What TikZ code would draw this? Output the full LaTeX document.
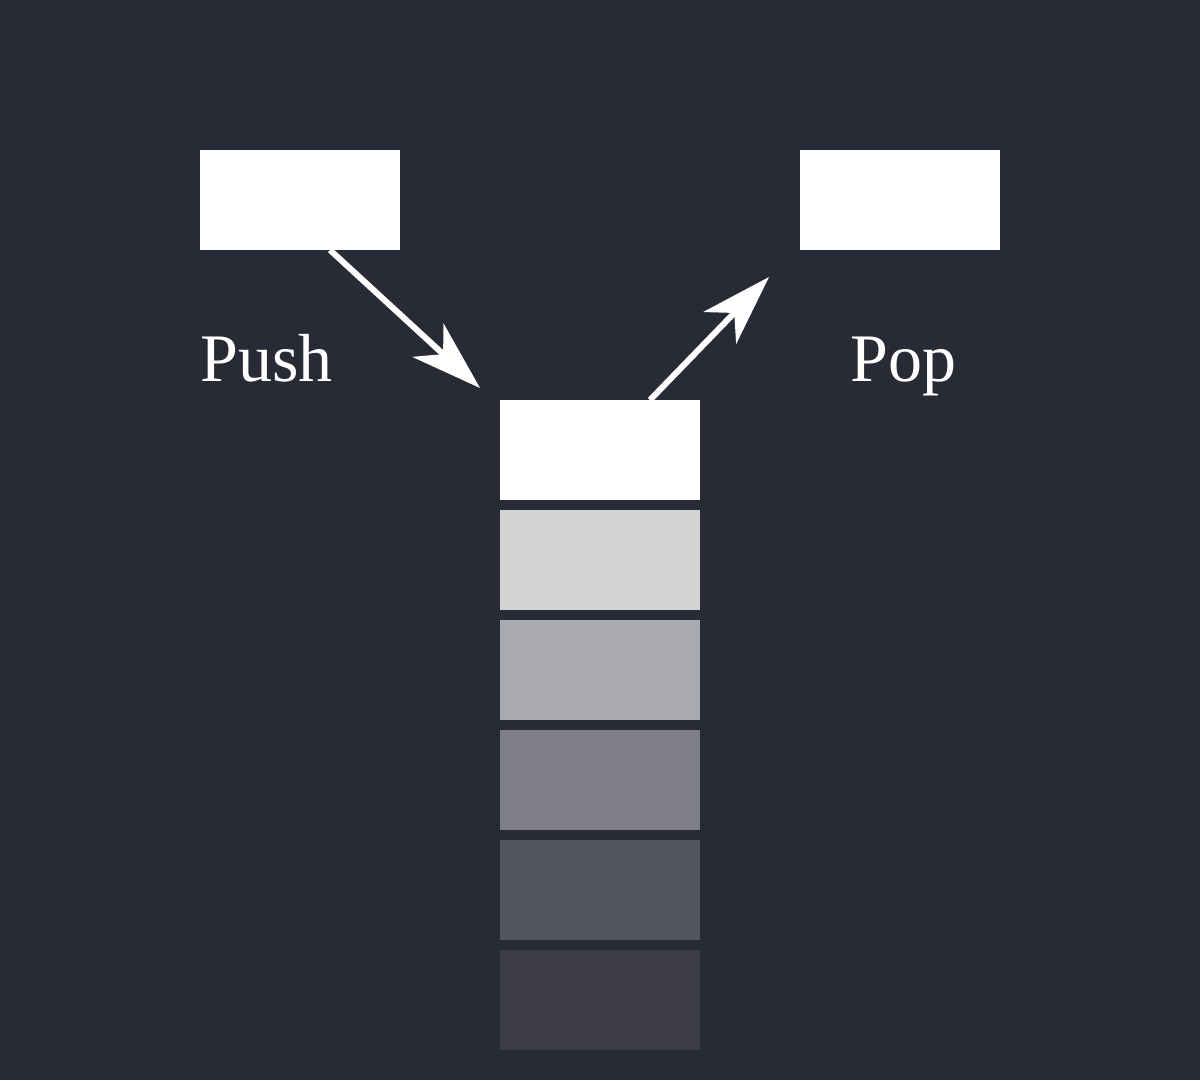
\documentclass[tikz,border=0pt]{standalone}
\usepackage{xcolor}
\usepackage{fontspec}
\setmainfont{Liberation Serif}
\usepackage{tikz}
\usetikzlibrary{arrows.meta}
\definecolor{bg}{HTML}{282A36}
\definecolor{text}{HTML}{FFFFFF}
\definecolor{lvla}{HTML}{D3D3D6}
\definecolor{lvlb}{HTML}{A9AAAF}
\definecolor{lvlc}{HTML}{7E7E88}
\definecolor{lvld}{HTML}{52555F}
\definecolor{lvle}{HTML}{3D3D4A}
\tikzset{
  cell/.style={anchor=north west, minimum width=200pt, minimum height=100pt, inner sep=0pt, outer sep=0pt},
  move/.style={draw=text, line width=6pt, -{Stealth[length=71pt,width=46pt,inset=21pt,line width=0pt]}},
  lab/.style={text=text, font=\fontsize{68}{80}\selectfont, anchor=base west, inner sep=0pt},
}

\begin{document}
\begin{tikzpicture}[x=1pt,y=-1pt]
  \fill[bg] (0,0) rectangle (1200,1080);
  \useasboundingbox (0,0) rectangle (1200,1080);

  \node[cell,fill=text] (item) at (200,150) {};
  \node[cell,fill=text] (out) at (800,150) {};

  % stack, top to bottom
  \node[cell,fill=text] (top) at (500,400) {};
  \node[cell,fill=lvla] (s2) at (500,510) {};
  \node[cell,fill=lvlb] (s3) at (500,620) {};
  \node[cell,fill=lvlc] (s4) at (500,730) {};
  \node[cell,fill=lvld] (s5) at (500,840) {};
  \node[cell,fill=lvle] (s6) at (500,950) {};

  \coordinate (pushend) at (480,388);
  \coordinate (popend) at (769,277);
  \draw[move] ([xshift=30pt]item.south) -- (pushend);
  \draw[move] ([xshift=50pt]top.north) -- (popend);

  \node[lab] (pushlab) at (200,381) {Push};
  \node[lab] (poplab) at (850,381) {Pop};
\end{tikzpicture}
\end{document}
